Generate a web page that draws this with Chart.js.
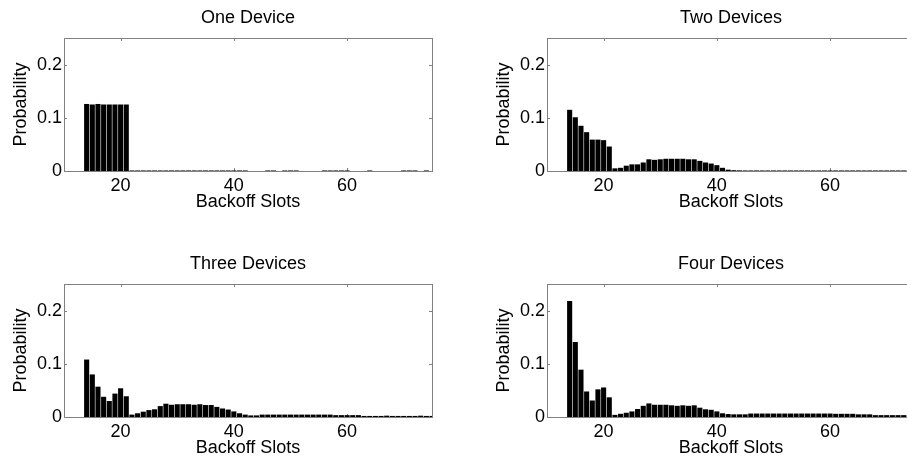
<!DOCTYPE html>
<html>
<head>
<meta charset="utf-8">
<script src="https://cdn.jsdelivr.net/npm/chart.js@4.4.1/dist/chart.umd.min.js"></script>
<style>
  html, body { margin: 0; padding: 0; background: #fff; overflow: hidden; }
  #fig { position: relative; width: 907px; height: 466px; overflow: hidden; }
  .panel { position: absolute; width: 453px; height: 233px; }
</style>
</head>
<body>
<div id="fig">
  <div class="panel" style="left:0px;top:0px"><canvas id="c1"></canvas></div>
  <div class="panel" style="left:483px;top:0px"><canvas id="c2"></canvas></div>
  <div class="panel" style="left:0px;top:246px"><canvas id="c3"></canvas></div>
  <div class="panel" style="left:483px;top:246px"><canvas id="c4"></canvas></div>
</div>
<script>
// backoff slots 14..75
const slots = [14,15,16,17,18,19,20,21,22,23,24,25,26,27,28,29,30,31,32,33,34,35,36,37,38,39,40,41,42,43,44,
  45,46,47,48,49,50,51,52,53,54,55,56,57,58,59,60,61,62,63,64,65,66,67,68,69,70,71,72,73,74,75];

const xTicks = [20, 40, 60];
const yTicks = [0, 0.1, 0.2];
const titles = ["One Device", "Two Devices", "Three Devices", "Four Devices"];

const oneDevice = [0.126,0.125,0.126,0.125,0.125,0.125,0.125,0.125,
  0.001,0.001,0.001,0.001,0.001,0.001,0.001,0.001,0.001,0.001,0.001,0.001,0.001,0.001,0.001,0.001,0.001,0.001,0.001,0.001,0.001,
  0,0,0,0.001,0.001,0,0.001,0.001,0.001,0,0,0,0,0.001,0.001,0.001,0.001,0.001,0,0,0,0.001,0,0,0,0,0,0.001,0.001,0.001,0,0.001,0];

const twoDevices = [0.115,0.101,0.085,0.073,0.059,0.059,0.058,0.046,0.005,0.006,0.010,0.0125,0.0125,0.016,0.022,0.021,
  0.022,0.023,0.023,0.023,0.023,0.022,0.022,0.019,0.016,0.014,0.011,0.006,0.0025,
  0.0015,0.0012,0.001,0.001,0.001,0.001,0.001,0.001,0.001,0.001,0.001,0.001,0.001,0.001,0.001,0.001,0.001,
  0.001,0.001,0.001,0.001,0.001,0.001,0.001,0.001,0.001,0.001,0.001,0.001,0.001,0.001,0.001,0.001];

const threeDevices = [0.108,0.080,0.057,0.038,0.030,0.044,0.054,0.039,0.0045,0.007,0.010,0.013,0.0145,0.0205,0.025,0.023,
  0.024,0.024,0.024,0.023,0.024,0.0225,0.0225,0.019,0.016,0.014,0.0105,0.007,0.0045,
  0.003,0.003,0.0045,0.0045,0.0045,0.0045,0.0045,0.0045,0.0045,0.0045,0.0045,0.0045,0.0045,0.0045,0.0045,
  0.0035,0.0035,0.0035,0.0035,0.0035,0.002,0.002,0.002,0.002,0.0025,0.002,0.002,0.002,0.002,0.002,0.0025,0.002,0.002];

const fourDevices = [0.218,0.141,0.089,0.048,0.031,0.052,0.0555,0.037,0.004,0.006,0.008,0.0105,0.015,0.021,0.0255,0.023,
  0.023,0.023,0.022,0.021,0.022,0.021,0.022,0.0175,0.0145,0.0135,0.0105,0.007,0.0055,
  0.005,0.005,0.005,0.0065,0.0065,0.0065,0.0065,0.0065,0.0065,0.0065,0.0065,0.0065,0.0065,0.0065,0.0065,0.0065,0.0065,0.0065,
  0.006,0.006,0.006,0.006,0.005,0.005,0.005,0.0035,0.0035,0.0035,0.0035,0.0035,0.0035,0.0035,0.0035];

const FONT = "'Liberation Sans', Arial, sans-serif";
const BOX = "#808080";

// matlab-like box with inward ticks
const boxPlugin = {
  id: "box",
  beforeDatasetsDraw(chart) {
    const {ctx, chartArea: a, scales} = chart;
    ctx.save();
    ctx.strokeStyle = BOX;
    ctx.lineWidth = 1;
    ctx.strokeRect(Math.round(a.left) + 0.5, Math.round(a.top) + 0.5,
      Math.round(a.right - a.left), Math.round(a.bottom - a.top));
    ctx.beginPath();
    xTicks.forEach(v => {
      const px = Math.round(scales.x.getPixelForValue(v)) + 0.5;
      ctx.moveTo(px, a.bottom); ctx.lineTo(px, a.bottom - 3);
      ctx.moveTo(px, a.top); ctx.lineTo(px, a.top + 3);
    });
    yTicks.forEach(v => {
      const py = Math.round(scales.y.getPixelForValue(v)) + 0.5;
      ctx.moveTo(a.left, py); ctx.lineTo(a.left + 3, py);
      ctx.moveTo(a.right, py); ctx.lineTo(a.right - 3, py);
    });
    ctx.stroke();
    ctx.restore();
  }
};

function panel(id, title, values) {
  new Chart(document.getElementById(id), {
    type: "bar",
    data: {
      labels: slots,
      datasets: [{
        data: values,
        backgroundColor: "#000",
        borderWidth: 0,
        barPercentage: 0.9,
        categoryPercentage: 1
      }]
    },
    options: {
      responsive: true,
      maintainAspectRatio: false,
      animation: false,
      layout: { padding: { left: 0, right: 21, top: 0, bottom: 0 } },
      plugins: {
        legend: { display: false },
        tooltip: { enabled: false },
        title: {
          display: true,
          fullSize: false,
          text: title,
          color: "#000",
          font: { family: FONT, size: 18, weight: "normal" },
          padding: { top: 7, bottom: 9.4 }
        }
      },
      scales: {
        x: {
          type: "linear",
          offset: false,
          min: 10,
          max: 75,
          afterBuildTicks: s => { s.ticks = xTicks.map(v => ({ value: v })); },
          afterFit: s => { s.height = 62; },
          grid: { display: false, drawTicks: false, offset: false },
          border: { display: false },
          ticks: { color: "#000", padding: 4, font: { family: FONT, size: 18 }, maxRotation: 0 },
          title: {
            display: true, text: "Backoff Slots", color: "#000",
            font: { family: FONT, size: 18 }, padding: { top: 0, bottom: 20 }
          }
        },
        y: {
          min: 0,
          max: 0.25,
          afterBuildTicks: s => { s.ticks = yTicks.map(v => ({ value: v })); },
          afterFit: s => { s.width = 64; },
          grid: { display: false, drawTicks: false },
          border: { display: false },
          ticks: { color: "#000", padding: 2, font: { family: FONT, size: 18 }, callback: v => String(v) },
          title: {
            display: true, text: "Probability", color: "#000",
            font: { family: FONT, size: 18 }, padding: { top: 10, bottom: 0 }
          }
        }
      }
    },
    plugins: [boxPlugin]
  });
}

panel("c1", titles[0], oneDevice);
panel("c2", titles[1], twoDevices);
panel("c3", titles[2], threeDevices);
panel("c4", titles[3], fourDevices);
</script>
</body>
</html>
